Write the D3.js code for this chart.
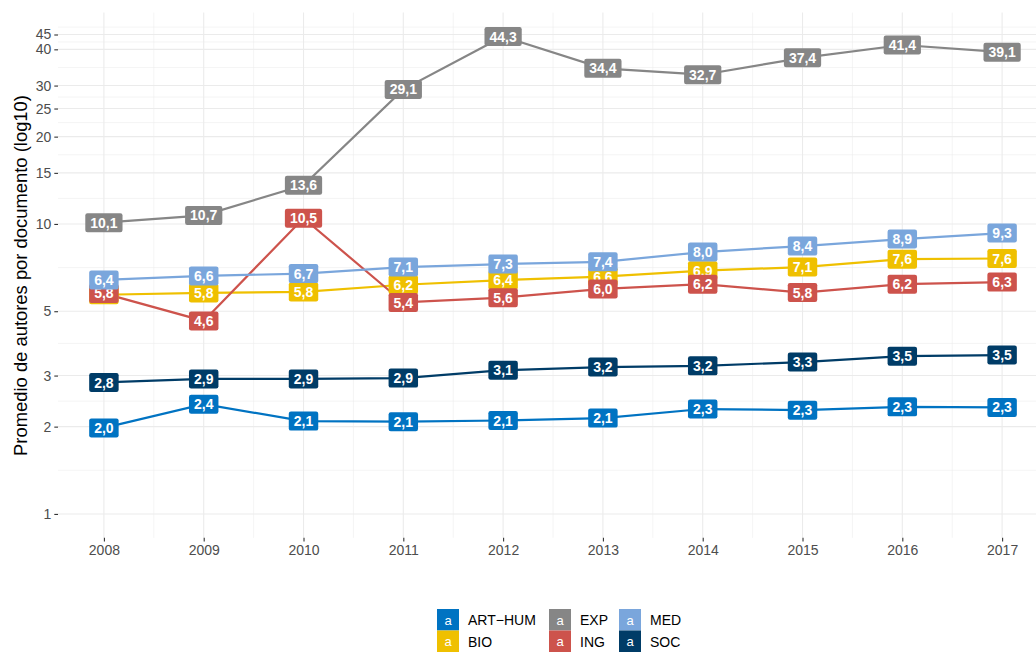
<!DOCTYPE html>
<html>
<head>
<meta charset="utf-8">
<script src="https://cdn.jsdelivr.net/npm/d3@7"></script>
<style>
  body { margin: 0; background: #fff; }
  text { font-family: "Liberation Sans", Arial, sans-serif; }
</style>
</head>
<body>
<div id="chart"></div>
<script>
var years = [2008, 2009, 2010, 2011, 2012, 2013, 2014, 2015, 2016, 2017];
var artHum = [1.98, 2.39, 2.09, 2.08, 2.1, 2.14, 2.3, 2.28, 2.34, 2.33];
var bio = [5.7, 5.78, 5.83, 6.17, 6.4, 6.58, 6.9, 7.1, 7.56, 7.6];
var expv = [10.1, 10.7, 13.6, 29.1, 44.3, 34.4, 32.7, 37.4, 41.4, 39.1];
var ing = [5.76, 4.63, 10.46, 5.36, 5.57, 5.97, 6.2, 5.8, 6.2, 6.3];
var med = [6.41, 6.62, 6.74, 7.1, 7.27, 7.4, 8.0, 8.39, 8.87, 9.3];
var soc = [2.84, 2.92, 2.92, 2.94, 3.13, 3.21, 3.24, 3.34, 3.5, 3.53];
var groups = ["ART-HUM", "BIO", "EXP", "ING", "MED", "SOC"];
var colors = ["#0073C2", "#EFC000", "#868686", "#CD534C", "#7AA6DC", "#003C67"];
var yBreaks = [1, 2, 3, 5, 10, 15, 20, 25, 30, 40, 45];

(function() {
    var width = 1036, height = 652;
    var seriesVals = [artHum, bio, expv, ing, med, soc];
    var series = groups.map((g, i) => ({
        name: g,
        color: colors[i],
        values: years.map((yr, j) => ({year: yr, v: seriesVals[i][j]}))
    }));

    var svg = d3.select("#chart").append("svg")
        .attr("width", width)
        .attr("height", height);

    // panel geometry
    var pLeft = 58, pTop = 12.6, pBottom = 537.8;
    var pxPerYear = 99.8;
    var x = d3.scaleLinear()
        .domain([2007.54, 2017.46])
        .range([pLeft, pLeft + 9.92 * pxPerYear]);

    var lo = 0, hi = Math.log10(d3.max(expv));
    var pad = (hi - lo) * 0.05;
    var y = d3.scaleLog()
        .domain([Math.pow(10, lo - pad), Math.pow(10, hi + pad)])
        .range([pBottom, pTop]);

    var pRight = x.range()[1];

    // minor breaks: midpoints in log space
    var logB = yBreaks.map(Math.log10);
    var minorY = [];
    for (var i = 0; i < logB.length - 1; i++) minorY.push(Math.pow(10, (logB[i] + logB[i + 1]) / 2));
    var above = logB[logB.length - 1] + (logB[logB.length - 1] - logB[logB.length - 2]) / 2;
    if (above < hi + pad) minorY.push(Math.pow(10, above));
    var minorX = d3.range(2008.5, 2017, 1);

    var grid = svg.append("g");
    grid.selectAll(".ymin").data(minorY).enter().append("line")
        .attr("x1", pLeft).attr("x2", pRight)
        .attr("y1", d => y(d)).attr("y2", d => y(d))
        .attr("stroke", "#EBEBEB").attr("stroke-width", 0.55);
    grid.selectAll(".xmin").data(minorX).enter().append("line")
        .attr("y1", pTop).attr("y2", pBottom)
        .attr("x1", d => x(d)).attr("x2", d => x(d))
        .attr("stroke", "#EBEBEB").attr("stroke-width", 0.55);
    grid.selectAll(".ymaj").data(yBreaks).enter().append("line")
        .attr("x1", pLeft).attr("x2", pRight)
        .attr("y1", d => y(d)).attr("y2", d => y(d))
        .attr("stroke", "#EBEBEB").attr("stroke-width", 1.1);
    grid.selectAll(".xmaj").data(years).enter().append("line")
        .attr("y1", pTop).attr("y2", pBottom)
        .attr("x1", d => x(d)).attr("x2", d => x(d))
        .attr("stroke", "#EBEBEB").attr("stroke-width", 1.1);

    // axes
    var yAxis = d3.axisLeft(y).tickValues(yBreaks).tickFormat(d3.format("d")).tickSize(3.7).tickPadding(3);
    var gy = svg.append("g").attr("transform", "translate(" + pLeft + ",0)").call(yAxis);
    var xAxis = d3.axisBottom(x).tickValues(years).tickFormat(d3.format("d")).tickSize(3.7).tickPadding(4);
    var gx = svg.append("g").attr("transform", "translate(0," + pBottom + ")").call(xAxis);
    [gx, gy].forEach(g => {
        g.select(".domain").remove();
        g.selectAll(".tick line").attr("stroke", "#333333").attr("stroke-width", 1.1);
        g.selectAll(".tick text").attr("fill", "#4D4D4D").style("font-size", "14px");
    });

    svg.append("text")
        .attr("transform", "translate(27,275.5) rotate(-90)")
        .attr("text-anchor", "middle")
        .style("font-size", "18.4px")
        .attr("fill", "#000")
        .text("Promedio de autores por documento (log10)");

    // lines
    var line = d3.line().x(d => x(d.year)).y(d => y(d.v));
    svg.append("g").selectAll("path").data(series).enter().append("path")
        .attr("d", d => line(d.values))
        .attr("fill", "none")
        .attr("stroke", d => d.color)
        .attr("stroke-width", 2.2);

    // labels
    var fmt = v => d3.format(".1f")(v).replace(".", ",");
    var labG = svg.append("g");
    series.forEach(s => {
        s.values.forEach(p => {
            var g = labG.append("g").attr("transform", "translate(" + x(p.year) + "," + y(p.v) + ")");
            var rect = g.append("rect").attr("fill", s.color).attr("rx", 2.2).attr("ry", 2.2);
            var t = g.append("text")
                .attr("text-anchor", "middle")
                .attr("dy", "0.36em")
                .attr("fill", "#fff")
                .style("font-size", "14px")
                .style("font-weight", "bold")
                .text(fmt(p.v));
            var w = t.node().getComputedTextLength() + 10;
            rect.attr("x", -w / 2).attr("y", -9.5).attr("width", w).attr("height", 19);
        });
    });

    // legend
    var legCols = [437, 549, 619];
    var legG = svg.append("g");
    groups.forEach((g, i) => {
        var col = Math.floor(i / 2), row = i % 2;
        var lx = legCols[col], ly = 609 + row * 21.5;
        legG.append("rect").attr("x", lx).attr("y", ly).attr("width", 22).attr("height", 21.5)
            .attr("fill", colors[i]);
        legG.append("text").attr("x", lx + 11).attr("y", ly + 11).attr("dy", "0.36em")
            .attr("text-anchor", "middle").attr("fill", "#fff").style("font-size", "13px")
            .text("a");
        legG.append("text").attr("x", lx + 31).attr("y", ly + 11).attr("dy", "0.36em")
            .attr("fill", "#000").style("font-size", "14px")
            .text(g.replace("-", "\u2212"));
    });
})();
</script>
</body>
</html>
